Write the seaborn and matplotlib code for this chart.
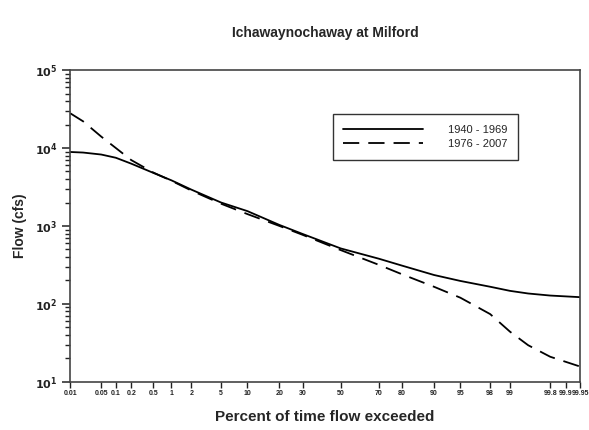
import math
import numpy as np
import pandas as pd
import matplotlib
matplotlib.use("Agg")
import matplotlib.pyplot as plt
import seaborn as sns

# flow duration data
pct = [0.01, 0.02, 0.05, 0.1, 0.2, 0.5, 1, 2, 5, 10, 20, 30,
       50, 70, 80, 90, 95, 98, 99, 99.5, 99.8, 99.95]
flow_1940_1969 = [8900, 8750, 8250, 7500, 6300, 4800, 3850, 2930, 2000, 1550, 1030, 790,
                  515, 380, 310, 235, 197, 166, 147, 136, 128, 122]
flow_1976_2007 = [28000, 22000, 14000, 10000, 7000, 4850, 3800, 2850, 1930, 1420, 1000, 770,
                  490, 317, 240, 166, 120, 74, 44, 29.5, 21, 15.7]
periods = ["1940 - 1969", "1976 - 2007"]

x_ticks = [0.01, 0.05, 0.1, 0.2, 0.5, 1, 2, 5, 10, 20, 30, 50, 70, 80, 90, 95, 98, 99,
           99.8, 99.9, 99.95]
x_tick_labels = ["0.01", "0.05", "0.1", "0.2", "0.5", "1", "2", "5", "10", "20", "30", "50",
                 "70", "80", "90", "95", "98", "99", "99.8", "99.9", "99.95"]


# normal probability axis (no scipy, so Acklam's approximation of the inverse cdf)
def norm_ppf(p):
    p = np.clip(np.asarray(p, dtype=float), 1e-12, 1 - 1e-12)
    a = [-3.969683028665376e+01, 2.209460984245205e+02, -2.759285104469687e+02,
         1.383577518672690e+02, -3.066479806614716e+01, 2.506628277459239e+00]
    b = [-5.447609879822406e+01, 1.615858368580409e+02, -1.556989798598866e+02,
         6.680131188771972e+01, -1.328068155288572e+01]
    c = [-7.784894002430293e-03, -3.223964580411365e-01, -2.400758277161838e+00,
         -2.549732539343734e+00, 4.374664141464968e+00, 2.938163982698783e+00]
    d = [7.784695709041462e-03, 3.224671290700398e-01, 2.445134137142996e+00,
         3.754408661907416e+00]
    lo = 0.02425
    out = np.zeros_like(p)
    m = p < lo
    q = np.sqrt(-2 * np.log(p[m]))
    out[m] = (((((c[0]*q+c[1])*q+c[2])*q+c[3])*q+c[4])*q+c[5]) / ((((d[0]*q+d[1])*q+d[2])*q+d[3])*q+1)
    m = p > 1 - lo
    q = np.sqrt(-2 * np.log(1 - p[m]))
    out[m] = -(((((c[0]*q+c[1])*q+c[2])*q+c[3])*q+c[4])*q+c[5]) / ((((d[0]*q+d[1])*q+d[2])*q+d[3])*q+1)
    m = (p >= lo) & (p <= 1 - lo)
    q = p[m] - 0.5
    r = q * q
    out[m] = (((((a[0]*r+a[1])*r+a[2])*r+a[3])*r+a[4])*r+a[5])*q / (((((b[0]*r+b[1])*r+b[2])*r+b[3])*r+b[4])*r+1)
    return out


_erf = np.vectorize(math.erf)


def fwd(x):
    return norm_ppf(np.asarray(x, dtype=float) / 100.0)


def inv(z):
    z = np.asarray(z, dtype=float)
    return 50.0 * (1 + _erf(z / math.sqrt(2)))


df = pd.DataFrame({
    "pct": pct * 2,
    "flow": flow_1940_1969 + flow_1976_2007,
    "period": [periods[0]] * len(pct) + [periods[1]] * len(pct),
})

sns.set_style("ticks")
plt.rcParams["font.family"] = ["Liberation Sans", "DejaVu Sans"]
plt.rcParams["ytick.minor.size"] = 3.5
plt.rcParams["ytick.minor.width"] = 1.0
plt.rcParams["ytick.minor.visible"] = True

fig = plt.figure(figsize=(5.89, 4.30), dpi=100)
ax = fig.add_axes([0.119, 0.112, 0.866, 0.725])

sns.lineplot(data=df, x="pct", y="flow", style="period", color="black", linewidth=1.3,
             dashes={periods[0]: "", periods[1]: (9, 5)}, ax=ax)

ax.set_xscale("function", functions=(fwd, inv))
ax.set_yscale("log")
ax.set_xlim(0.01, 99.95)
ax.set_ylim(10, 1e5)

ax.set_xticks(x_ticks)
ax.set_xticklabels(x_tick_labels, fontsize=5, fontweight="bold")
ax.set_xticks([], minor=True)
ax.set_yticks([10, 100, 1000, 10000, 100000])
ax.set_yticklabels([r"$\mathbf{10^{%d}}$" % k for k in range(1, 6)], fontsize=8)
minor_y = [m * 10.0 ** e for e in range(1, 5) for m in range(2, 10)]
ax.set_yticks(minor_y, minor=True)
ax.set_yticklabels([""] * len(minor_y), minor=True)
ax.tick_params(axis="x", direction="out", length=4, width=1, pad=2, colors="#222222")
ax.tick_params(axis="y", which="major", direction="out", length=5.5, width=1.1, colors="#222222")
ax.tick_params(axis="y", which="minor", left=True, direction="out", length=3.5, width=1.0,
               color="#222222")

for s in ax.spines.values():
    s.set_color("#444444")
    s.set_linewidth(1.2)

ax.set_title("Ichawaynochaway at Milford", fontsize=10, fontweight="bold", pad=24)
ax.set_xlabel("Percent of time flow exceeded", fontsize=11, fontweight="bold", labelpad=9)
ax.set_ylabel("Flow (cfs)", fontsize=10, fontweight="bold", labelpad=6)

leg = ax.legend(loc="upper left", bbox_to_anchor=(0.504, 0.876), fontsize=8,
                handlelength=7.2, handletextpad=2.2, borderpad=0.95, labelspacing=0.4,
                fancybox=False, framealpha=1, edgecolor="#333333", title=None)
leg.get_frame().set_linewidth(1.0)

fig.savefig("out.png", dpi=100)
